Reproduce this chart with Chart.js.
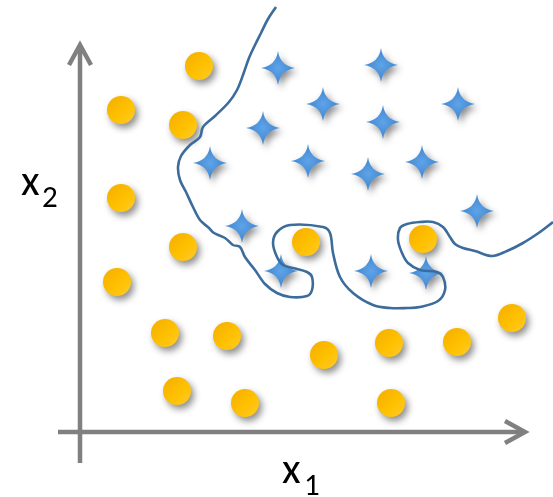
<!DOCTYPE html>
<html>
<head>
<meta charset="utf-8">
<script src="https://cdn.jsdelivr.net/npm/chart.js@4"></script>
<style>
html,body{margin:0;padding:0;background:#ffffff;}
#wrap{width:553px;height:497px;position:relative;}
</style>
</head>
<body>
<div id="wrap"><canvas id="c" width="553" height="497"></canvas></div>
<script>
// Class A (yellow circles): x1, x2
const circleX1 = [119, 41, 103, 41, 103, 37, 85, 147, 97, 165, 244, 309, 377, 432, 311, 226, 343];
const circleX2 = [366, 322, 307, 234, 185, 150, 99, 96, 41, 29, 77, 89, 90, 114, 29, 190, 193];
// Class B (blue stars): x1, x2
const starX1 = [198, 301, 243, 183, 303, 378, 130, 228, 288, 342, 397, 162, 201, 291, 346];
const starX2 = [364, 367, 328, 304, 310, 328, 269, 271, 258, 270, 221, 206, 161, 161, 159];
// Decision boundary
const boundaryX1 = [196,188,181,175,169,163,157,149,135,123,120,110,101,98,100,106,113,120,129,134,145,153,160,165,175,185,197,210,227,232,232,227,213,203,197,193,197,210,243,250,253,260,273,293,310,327,340,358,365,363,357,340,328,322,318,320,327,340,353,363,370,375,383,395,412,427,443,460,473];
const boundaryX2 = [425,413,399,387,374,357,342,330,316,305,295,287,276,265,252,240,225,212,204,199,194,187,185,175,162,148,139,135,136,142,155,160,164,167,175,189,200,207,205,199,179,155,139,127,124,124,125,131,142,155,160,162,169,179,192,204,208,210,210,205,195,188,184,181,176,181,189,200,210];
// Axis labels
const xLabel = ["x", "1"];
const yLabel = ["x", "2"];

function toPts(xs, ys){ return xs.map((v,i)=>({x:v, y:ys[i]})); }

function makeCircle(){
  const R = 14, pad = 14, S = 2*(R+pad);
  const cv = document.createElement('canvas'); cv.width = S; cv.height = S;
  const g = cv.getContext('2d');
  g.translate(S/2, S/2);
  g.shadowColor = 'rgba(0,0,0,0.45)'; g.shadowBlur = 7; g.shadowOffsetX = 3; g.shadowOffsetY = 4;
  const gr = g.createLinearGradient(-R,-R,R,R);
  gr.addColorStop(0,'#F3AE00'); gr.addColorStop(0.55,'#FFC000'); gr.addColorStop(1,'#FFCB2A');
  g.fillStyle = gr;
  g.beginPath(); g.arc(0,0,R,0,Math.PI*2); g.fill();
  return cv;
}
function makeStar(){
  const R = 17, c = 2.2, pad = 14, S = 2*(R+pad);
  const cv = document.createElement('canvas'); cv.width = S; cv.height = S;
  const g = cv.getContext('2d');
  g.translate(S/2, S/2);
  g.shadowColor = 'rgba(0,0,0,0.45)'; g.shadowBlur = 7; g.shadowOffsetX = 3; g.shadowOffsetY = 4;
  const gr = g.createRadialGradient(0,0,0,0,0,R);
  gr.addColorStop(0,'#5FA3E8'); gr.addColorStop(1,'#3E86D0');
  g.fillStyle = gr;
  g.beginPath();
  g.moveTo(0,-R);
  g.quadraticCurveTo(c,-c,R,0);
  g.quadraticCurveTo(c,c,0,R);
  g.quadraticCurveTo(-c,c,-R,0);
  g.quadraticCurveTo(-c,-c,0,-R);
  g.closePath(); g.fill();
  return cv;
}

const axesPlugin = {
  id:'axesPlugin',
  beforeDatasetsDraw(chart){
    const ctx = chart.ctx, xs = chart.scales.x, ys = chart.scales.y;
    const ox = xs.getPixelForValue(0), oy = ys.getPixelForValue(0);
    const xEnd = xs.getPixelForValue(445), yEnd = ys.getPixelForValue(387);
    const xStart = xs.getPixelForValue(-22), yStart = ys.getPixelForValue(-31);
    ctx.save();
    ctx.strokeStyle = '#808080'; ctx.lineWidth = 4.5; ctx.lineCap = 'butt'; ctx.lineJoin='miter';
    ctx.beginPath(); ctx.moveTo(xStart, oy); ctx.lineTo(xEnd-2, oy); ctx.stroke();
    ctx.beginPath(); ctx.moveTo(ox, yStart); ctx.lineTo(ox, yEnd+2); ctx.stroke();
    ctx.beginPath(); ctx.moveTo(xEnd-20, oy-11); ctx.lineTo(xEnd, oy); ctx.lineTo(xEnd-20, oy+11); ctx.stroke();
    ctx.beginPath(); ctx.moveTo(ox-11, yEnd+20); ctx.lineTo(ox, yEnd); ctx.lineTo(ox+11, yEnd+20); ctx.stroke();
    ctx.restore();
  },
  afterDraw(chart){
    const ctx = chart.ctx;
    ctx.save();
    ctx.fillStyle = '#000';
    ctx.textBaseline = 'alphabetic';
    ctx.font = '43px Carlito, Lato, "Open Sans", sans-serif';
    ctx.fillText(yLabel[0], 21, 195);
    ctx.fillText(xLabel[0], 282, 483);
    ctx.font = '31px Carlito, Lato, "Open Sans", sans-serif';
    ctx.fillText(yLabel[1], 42, 207);
    ctx.fillText(xLabel[1], 304, 495);
    ctx.restore();
  }
};

new Chart(document.getElementById('c'), {
  type:'scatter',
  data:{
    datasets:[
      { label:'boundary', data: toPts(boundaryX1, boundaryX2), showLine:true, borderColor:'#3B6C9C', borderWidth:2.6, pointRadius:0, tension:0.35, fill:false, order:0, clip:false },
      { label:'A', data: toPts(circleX1, circleX2), pointStyle: makeCircle(), pointRadius:0.5, showLine:false, order:2, clip:false },
      { label:'B', data: toPts(starX1, starX2), pointStyle: makeStar(), pointRadius:0.5, showLine:false, order:1, clip:false }
    ]
  },
  options:{
    responsive:false, animation:false, events:[],
    layout:{padding:0, autoPadding:false},
    plugins:{legend:{display:false}, tooltip:{enabled:false}},
    scales:{
      x:{type:'linear', display:false, min:-80, max:473},
      y:{type:'linear', display:false, min:-65, max:432}
    }
  },
  plugins:[axesPlugin]
});
</script>
</body>
</html>
